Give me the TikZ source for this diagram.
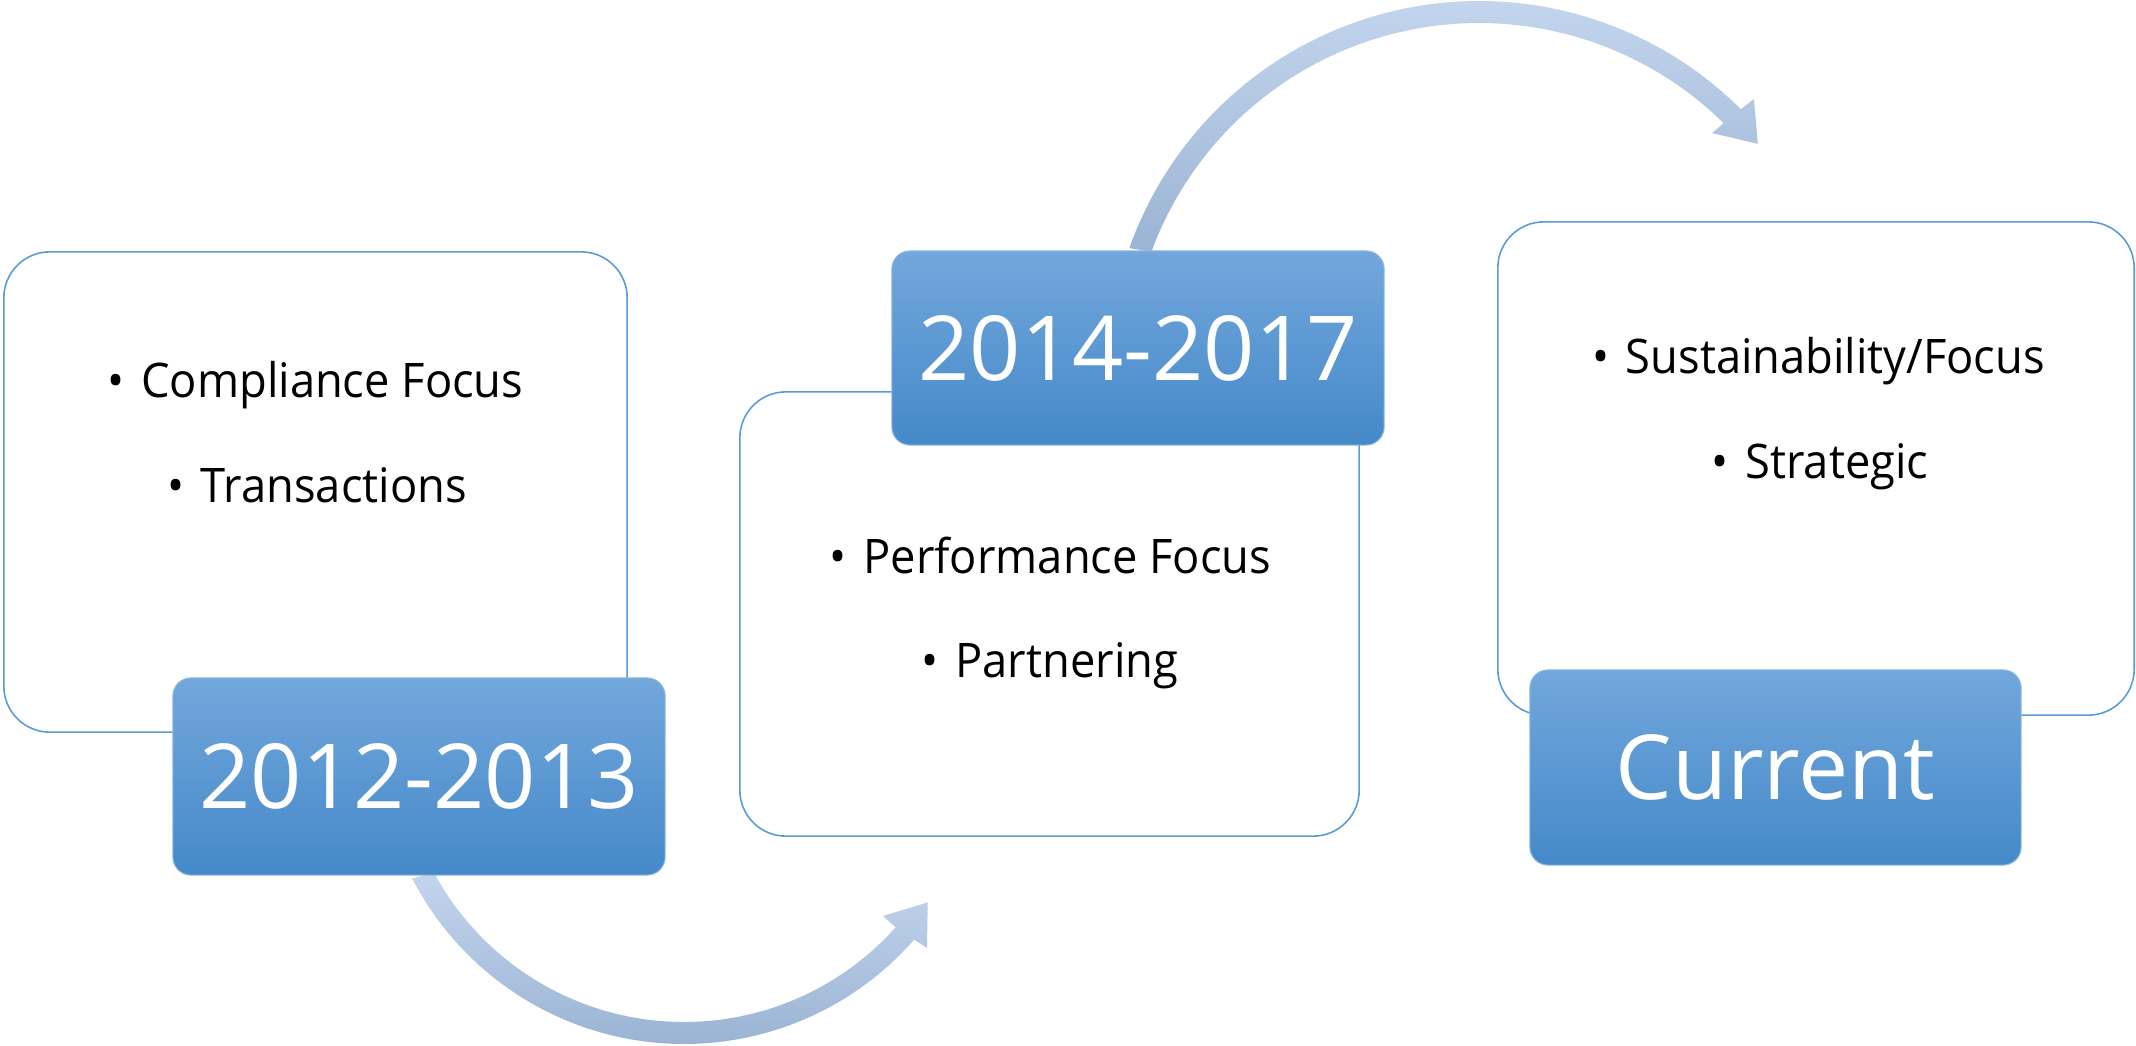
\documentclass[tikz,border=0pt]{standalone}
\usepackage{fontspec}
\setmainfont{Open Sans}
\newfontfamily\bodyfont[FakeStretch=0.95]{Open Sans}
\definecolor{boxline}{RGB}{91,155,213}
\definecolor{labtop}{RGB}{114,167,220}
\definecolor{labbot}{RGB}{69,137,201}
\definecolor{labedge}{RGB}{140,185,228}
\definecolor{arrtop}{RGB}{195,213,237}
\definecolor{arrbot}{RGB}{155,180,212}
\tikzset{
  panel/.style={draw=boxline, line width=0.45pt, fill=white, rounded corners=0.46cm, inner sep=0pt},
  yearbox/.style={draw=labedge, line width=0.3pt, top color=labtop, bottom color=labbot,
    rounded corners=0.18cm, inner sep=0pt, text=white, font=\fontsize{25.5}{30}\selectfont},
  bullettext/.style={anchor=base, inner sep=0pt, font=\bodyfont\fontsize{13.55}{16}\selectfont},
  flowarrow/.style={top color=arrtop, bottom color=arrbot, draw=none},
}
\begin{document}
\begin{tikzpicture}[x=0.01cm, y=-0.01cm]
\useasboundingbox (0,0) rectangle (2136,1045);

% white panels
\node[panel, minimum width=6.23cm, minimum height=4.80cm] (b1) at (315.5,492) {};
\node[panel, minimum width=6.19cm, minimum height=4.44cm] (b2) at (1049.5,614) {};
\node[panel, minimum width=6.36cm, minimum height=4.93cm] (b3) at (1816,468.5) {};

% curved arrows
\coordinate (c1) at (684,738);
\coordinate (c2) at (1479,372);
\shade[flowarrow]
  plot[domain=152.7:41.2, samples=90] ({684+306*cos(\x)},{738+306*sin(\x)})
  -- ({684+321*cos(40.8)},{738+321*sin(40.8)})
  -- ({684+294*cos(34)},{738+294*sin(34)})
  -- ({684+267*cos(41.8)},{738+267*sin(41.8)})
  -- plot[domain=41.8:151.6, samples=90] ({684+284*cos(\x)},{738+284*sin(\x)})
  -- cycle;
\shade[flowarrow]
  plot[domain=199.5:314.9, samples=90] ({1479+371*cos(\x)},{372+371*sin(\x)})
  -- ({1479+387.5*cos(315.2)},{372+387.5*sin(315.2)})
  -- ({1479+360.3*cos(320.7)},{372+360.3*sin(320.7)})
  -- ({1479+333.8*cos(314.3)},{372+333.8*sin(314.3)})
  -- plot[domain=314.5:200.2, samples=90] ({1479+349*cos(\x)},{372+349*sin(\x)})
  -- cycle;

% year labels
\node[yearbox, minimum width=4.92cm, minimum height=1.97cm] (l1) at (419,776.5) {2012-2013};
\node[yearbox, minimum width=4.92cm, minimum height=1.94cm] (l2) at (1138,348) {2014-2017};
\node[yearbox, minimum width=4.91cm, minimum height=1.95cm] (l3) at (1775.5,767.5) {Current};

% bullet texts
\node[bullettext] (t1a) at (315.5,397) {•\hspace{0.35em}Compliance Focus};
\node[bullettext] (t1b) at (317,502) {•\hspace{0.35em}Transactions};
\node[bullettext] (t2a) at (1050.5,573) {•\hspace{0.35em}Performance Focus};
\node[bullettext] (t2b) at (1050,677) {•\hspace{0.35em}Partnering};
\node[bullettext] (t3a) at (1818.5,373) {•\hspace{0.35em}Sustainability/Focus};
\node[bullettext] (t3b) at (1820,478) {•\hspace{0.35em}Strategic};
\end{tikzpicture}
\end{document}
